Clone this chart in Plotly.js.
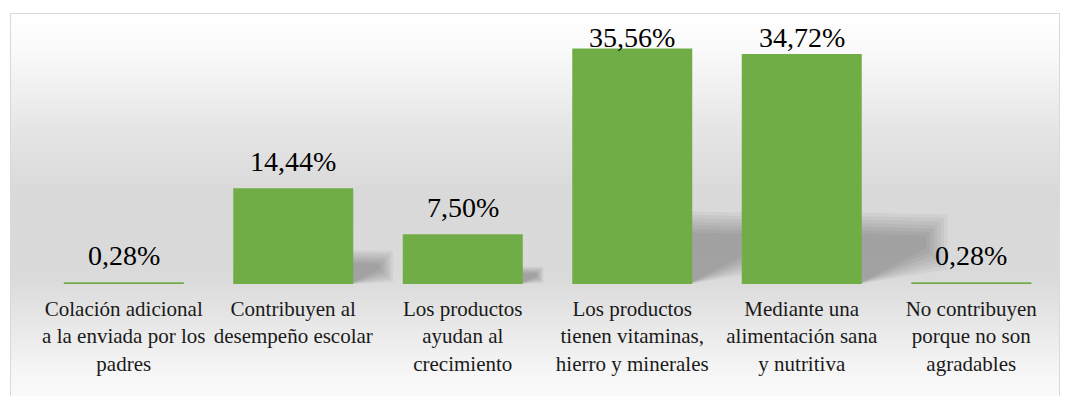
<!DOCTYPE html>
<html>
<head>
<meta charset="utf-8">
<script src="https://cdn.plot.ly/plotly-3.0.1.min.js"></script>
<style>
  html, body { margin: 0; padding: 0; width: 1070px; height: 396px; overflow: hidden; background: #ffffff; font-family: 'Liberation Serif'; }
  #frame {
    position: absolute; left: 10px; top: 13px; width: 1050px; height: 400px;
    border: 1.5px solid #d9d9d9; border-bottom: none; box-sizing: border-box;
    background: linear-gradient(to bottom, #ffffff 0%, #fafafa 9%, #e6e6e6 28%, #d9d9d9 45%, #dadada 66%, #e8e8e8 78%, #f6f6f6 90%, #fdfdfd 100%);
  }
  #chart { position: absolute; left: 0; top: 0; width: 1070px; height: 396px; }
  #chart svg text { font-family: 'Liberation Serif' !important; }
</style>
</head>
<body>
<div id="frame"></div>
<div id="chart"></div>
<script>
const categories = [
  "Colación adicional<br>a la enviada por los<br>padres",
  "Contribuyen al<br>desempeño escolar",
  "Los productos<br>ayudan al<br>crecimiento",
  "Los productos<br>tienen vitaminas,<br>hierro y minerales",
  "Mediante una<br>alimentación sana<br>y nutritiva",
  "No contribuyen<br>porque no son<br>agradables"
];
const values = [0.28, 14.44, 7.50, 35.56, 34.72, 0.28];

const fontFamily = "Liberation Serif";
const barColor = "#70AD47";

// plot geometry helpers (px per unit)
const PX_PER_Y = 265 / 40;
const PX_PER_CAT = 1017 / 6;
const BARGAP = 0.292;

const trace = {
  type: "bar",
  x: categories,
  y: values,
  marker: { color: barColor, line: { width: 0 } },
  hoverinfo: "skip"
};

// labels sit ~17px above the bar, but are kept inside the chart area at the top
const labelCap = (284 - 46.5) / PX_PER_Y - 17 / PX_PER_Y;
const annotations = values.map((v, i) => ({
  x: categories[i], y: Math.min(v, labelCap), xref: "x", yref: "y",
  text: v.toFixed(2).replace(".", ",") + "%",
  showarrow: false, yanchor: "bottom", yshift: 9,
  font: { family: fontFamily, size: 28, color: "#000000" }
}));

// soft cast shadows to the right of each bar, built from stacked translucent layers
const halfW = 0.5 * (1 - BARGAP);
const shapes = [];
values.forEach((v, i) => {
  const xr = i + halfW;
  const dx = 0.011 * v;
  const h = 0.22 * v;
  const step = Math.min(3.5, v * 0.15);
  for (let k = 6; k >= 0; k--) {
    const ex = (k * step) / PX_PER_CAT;
    const ey = (k * step) / PX_PER_Y;
    const top = h + ey;
    const r = xr + dx + ex;
    const y3 = h * 0.96 + ey;
    const y4 = Math.max(0, h * 0.7 - ey);
    shapes.push({
      type: "path", xref: "x", yref: "y", layer: "below",
      path: `M ${xr - 0.02} 0 L ${xr - 0.02} ${top} L ${r} ${y3} L ${r} ${y4} Z`,
      fillcolor: "rgba(0,0,0,0.038)", line: { width: 0 }
    });
  }
});

const layout = {
  width: 1070, height: 396,
  margin: { l: 39, r: 14, t: 19, b: 112 },
  paper_bgcolor: "rgba(0,0,0,0)",
  plot_bgcolor: "rgba(0,0,0,0)",
  font: { family: fontFamily },
  bargap: BARGAP,
  showlegend: false,
  xaxis: {
    type: "category",
    showgrid: false, showline: false, zeroline: false, ticks: "",
    ticklabelstandoff: 10,
    tickfont: { family: fontFamily, size: 21, color: "#1a1a1a" },
    fixedrange: true
  },
  yaxis: {
    range: [0, 40], visible: false, showgrid: false, zeroline: false, fixedrange: true
  },
  annotations: annotations,
  shapes: shapes
};

Plotly.newPlot("chart", [trace], layout, { displayModeBar: false, staticPlot: true });
</script>
</body>
</html>
